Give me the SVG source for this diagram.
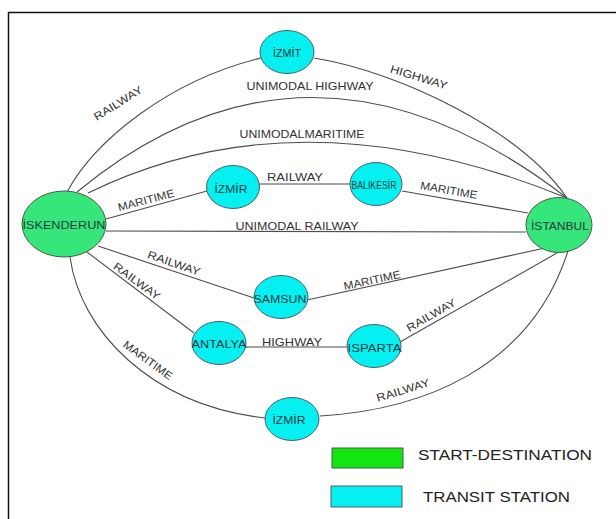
<svg xmlns="http://www.w3.org/2000/svg" width="616" height="519" viewBox="0 0 616 519">
<style>
.edge{fill:none;stroke:#4d4d4d;stroke-width:1.1}
.el{font-family:"Liberation Sans",Arial,sans-serif;font-size:11px;fill:#333;text-anchor:middle;dominant-baseline:central}
.nl{font-family:"Liberation Sans",Arial,sans-serif;font-size:10.5px;fill:#1c3c40;text-anchor:middle;dominant-baseline:central}
.sd{fill:#36e67a;stroke:#4a5a4a;stroke-width:1}
.tr{fill:#05f0f0;stroke:#4a6070;stroke-width:1}
.lg{font-family:"Liberation Sans",Arial,sans-serif;font-size:15px;fill:#222;dominant-baseline:central}
</style>
<rect width="616" height="519" fill="#fff"/>
<path d="M8.5,519 V12.5 H616" fill="none" stroke="#111" stroke-width="1.5"/>
<g id="connectors">
  <path class="edge" d="M67,192 C95,140 170,80 261,58"/>
  <path class="edge" d="M314,58 C400,72 520,130 567,198"/>
  <path class="edge" d="M77,192 Q310,0 567,198"/>
  <path class="edge" d="M88,193 Q300,89 567,198"/>
  <path class="edge" d="M106,219 L207,191"/>
  <path class="edge" d="M259,184 L350,184"/>
  <path class="edge" d="M402,191 L528,213"/>
  <path class="edge" d="M106,231 L526,232"/>
  <path class="edge" d="M98,246 L254,298"/>
  <path class="edge" d="M307,300 L545,248"/>
  <path class="edge" d="M87,252 L194,333"/>
  <path class="edge" d="M245,347 L347,347"/>
  <path class="edge" d="M400,342 L557,253"/>
  <path class="edge" d="M70,257 C80,330 150,405 265,418"/>
  <path class="edge" d="M320,416 C420,410 530,370 568,251"/>
  <text class="el" transform="translate(118,103) rotate(-32)" textLength="55" lengthAdjust="spacingAndGlyphs">RAILWAY</text>
  <text class="el" transform="translate(419,77) rotate(17)" textLength="59" lengthAdjust="spacingAndGlyphs">HIGHWAY</text>
  <text class="el" x="310" y="86" textLength="127" lengthAdjust="spacingAndGlyphs">UNIMODAL HIGHWAY</text>
  <text class="el" x="302" y="134" textLength="125" lengthAdjust="spacingAndGlyphs">UNIMODALMARITIME</text>
  <text class="el" transform="translate(146,200) rotate(-15)" textLength="58" lengthAdjust="spacingAndGlyphs">MARITIME</text>
  <text class="el" x="295" y="177" textLength="56" lengthAdjust="spacingAndGlyphs">RAILWAY</text>
  <text class="el" transform="translate(449,190) rotate(10)" textLength="58" lengthAdjust="spacingAndGlyphs">MARITIME</text>
  <text class="el" x="297" y="225.5" textLength="123" lengthAdjust="spacingAndGlyphs">UNIMODAL RAILWAY</text>
  <text class="el" transform="translate(174,263) rotate(19)" textLength="55" lengthAdjust="spacingAndGlyphs">RAILWAY</text>
  <text class="el" transform="translate(372,280) rotate(-12)" textLength="58" lengthAdjust="spacingAndGlyphs">MARITIME</text>
  <text class="el" transform="translate(137,281) rotate(36)" textLength="55" lengthAdjust="spacingAndGlyphs">RAILWAY</text>
  <text class="el" x="292" y="341.5" textLength="60" lengthAdjust="spacingAndGlyphs">HIGHWAY</text>
  <text class="el" transform="translate(431,315) rotate(-30)" textLength="55" lengthAdjust="spacingAndGlyphs">RAILWAY</text>
  <text class="el" transform="translate(148,360) rotate(36)" textLength="58" lengthAdjust="spacingAndGlyphs">MARITIME</text>
  <text class="el" transform="translate(403,390) rotate(-17)" textLength="55" lengthAdjust="spacingAndGlyphs">RAILWAY</text>
</g>
<g id="node-iskenderun">
  <ellipse class="sd" cx="64" cy="224" rx="42" ry="33"/>
  <text class="nl" x="64" y="225" font-size="12" textLength="83" lengthAdjust="spacingAndGlyphs">İSKENDERUN</text>
</g>
<g id="node-istanbul">
  <ellipse class="sd" cx="559" cy="225" rx="33" ry="27.5"/>
  <text class="nl" x="560" y="225.5" font-size="11.5" textLength="58" lengthAdjust="spacingAndGlyphs">İSTANBUL</text>
</g>
<g id="node-izmit">
  <ellipse class="tr" cx="287" cy="52" rx="27" ry="21.5"/>
  <text class="nl" x="287" y="52.5" textLength="28" lengthAdjust="spacingAndGlyphs">İZMİT</text>
</g>
<g id="node-izmir-upper">
  <ellipse class="tr" cx="233" cy="187" rx="26.5" ry="21.5"/>
  <text class="nl" x="231" y="188.5" textLength="33" lengthAdjust="spacingAndGlyphs">İZMİR</text>
</g>
<g id="node-balikesir">
  <ellipse class="tr" cx="376" cy="184" rx="26" ry="21.5"/>
  <text class="nl" x="374" y="184.5" font-size="8.5" textLength="45" lengthAdjust="spacingAndGlyphs">BALIKESİR</text>
</g>
<g id="node-samsun">
  <ellipse class="tr" cx="281" cy="297" rx="27" ry="21.5"/>
  <text class="nl" x="280" y="298.5" font-size="11" textLength="53" lengthAdjust="spacingAndGlyphs">SAMSUN</text>
</g>
<g id="node-antalya">
  <ellipse class="tr" cx="219" cy="343" rx="27" ry="21.5"/>
  <text class="nl" x="219" y="343.5" font-size="11" textLength="55" lengthAdjust="spacingAndGlyphs">ANTALYA</text>
</g>
<g id="node-isparta">
  <ellipse class="tr" cx="374" cy="346" rx="27" ry="21.5"/>
  <text class="nl" x="374.5" y="347.5" font-size="11" textLength="54" lengthAdjust="spacingAndGlyphs">ISPARTA</text>
</g>
<g id="node-izmir-lower">
  <ellipse class="tr" cx="292" cy="419" rx="27" ry="21.5"/>
  <text class="nl" x="289" y="420" textLength="33" lengthAdjust="spacingAndGlyphs">İZMİR</text>
</g>
<g id="legend">
  <rect x="332" y="448" width="71" height="20" fill="#11e611" stroke="#4a5a4a" stroke-width="1"/>
  <text class="lg" x="418" y="454.5" textLength="174" lengthAdjust="spacingAndGlyphs">START-DESTINATION</text>
  <rect x="331" y="486" width="71" height="21" fill="#05f0f0" stroke="#4a6070" stroke-width="1"/>
  <text class="lg" x="423" y="496" textLength="147" lengthAdjust="spacingAndGlyphs">TRANSIT STATION</text>
</g>
</svg>
